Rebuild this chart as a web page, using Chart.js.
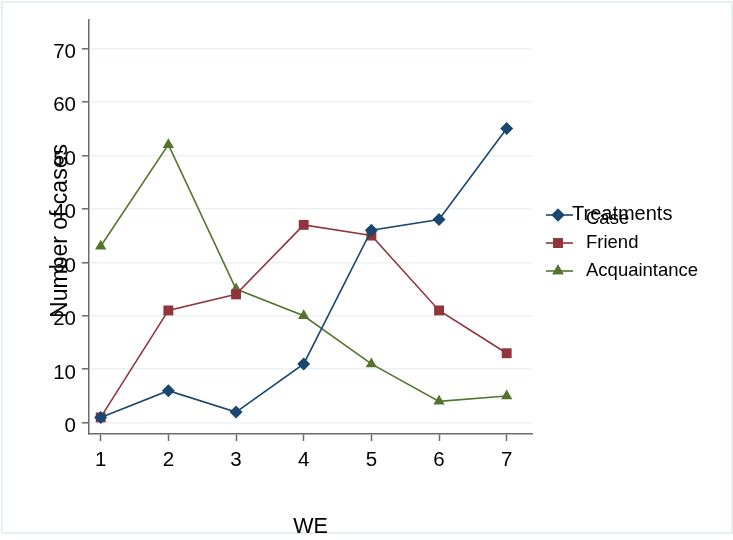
<!DOCTYPE html>
<html>
<head>
<meta charset="utf-8">
<script src="https://cdn.jsdelivr.net/npm/chart.js@4/dist/chart.umd.min.js"></script>
<style>
html,body{margin:0;padding:0;background:#fff;}
canvas{display:block;}
</style>
</head>
<body>
<canvas id="c" width="733" height="540"></canvas>
<script>
// ---- data ----
const categories = [1, 2, 3, 4, 5, 6, 7];
const caseValues = [1, 6, 2, 11, 36, 38, 55];
const friendValues = [1, 21, 24, 37, 35, 21, 13];
const acquaintanceValues = [33, 52, 25, 20, 11, 4, 5];
const yTickValues = [0, 10, 20, 30, 40, 50, 60, 70];
const xTickValues = [1, 2, 3, 4, 5, 6, 7];
const seriesLabels = ['Case', 'Friend', 'Acquaintance'];
const legendTitle = 'Treatments';
const xTitle = 'WE';
const yTitle = 'Number of cases';

const FONT = '"Liberation Sans", Arial, Helvetica, sans-serif';
const colors = ['#1a476f', '#90353b', '#55752f'];
const styles = ['rectRot', 'rect', 'triangle'];
const radii = [6.5, 7, 6.5];

function pts(vals) { return categories.map((c, i) => ({x: c, y: vals[i]})); }
const seriesValues = [caseValues, friendValues, acquaintanceValues];

const datasets = seriesValues.map((v, i) => ({
  label: seriesLabels[i],
  data: pts(v),
  borderColor: colors[i],
  backgroundColor: colors[i],
  borderWidth: 1.6,
  pointStyle: styles[i],
  pointRadius: radii[i],
  pointHoverRadius: radii[i],
  pointBorderWidth: 0,
  pointBackgroundColor: colors[i],
  fill: false,
  tension: 0
}));

const framePlugin = {
  id: 'frame',
  beforeDraw(chart) {
    const ctx = chart.ctx;
    ctx.save();
    ctx.fillStyle = '#ffffff';
    ctx.fillRect(0, 0, chart.width, chart.height);
    ctx.strokeStyle = '#e8efef';
    ctx.lineWidth = 2;
    ctx.strokeRect(2, 2, 730, 531);
    ctx.restore();
  },
  afterDraw(chart) {
    const ctx = chart.ctx;
    ctx.save();
    ctx.font = '23px ' + FONT;
    ctx.fillStyle = '#000';
    ctx.textAlign = 'center';
    ctx.textBaseline = 'middle';
    ctx.translate(61, 231);
    ctx.rotate(-Math.PI / 2);
    ctx.fillText(yTitle, 0, 0);
    ctx.restore();
  }
};

const legendPlugin = {
  id: 'customLegend',
  afterDraw(chart) {
    const ctx = chart.ctx;
    const rows = [215, 243, 271];
    const textRows = [219, 243, 271];
    ctx.save();
    ctx.font = '18.5px ' + FONT;
    ctx.textBaseline = 'middle';
    ctx.textAlign = 'left';
    chart.data.datasets.forEach((ds, i) => {
      const y = rows[i];
      ctx.strokeStyle = ds.borderColor;
      ctx.lineWidth = 1.6;
      ctx.beginPath();
      ctx.moveTo(546, y);
      ctx.lineTo(573, y);
      ctx.stroke();
      ctx.fillStyle = ds.borderColor;
      Chart.helpers.drawPoint(ctx, {pointStyle: ds.pointStyle, radius: ds.pointRadius, rotation: 0, borderWidth: 0}, 558, y);
      ctx.fill();
      ctx.fillStyle = '#000';
      ctx.fillText(ds.label, 586, textRows[i]);
    });
    ctx.font = '20px ' + FONT;
    ctx.fillStyle = '#000';
    ctx.fillText(legendTitle, 572, 214);
    ctx.restore();
  }
};

new Chart(document.getElementById('c'), {
  type: 'line',
  data: { datasets },
  options: {
    responsive: false,
    animation: false,
    events: [],
    layout: { padding: { left: 0, top: 20, right: 201, bottom: 0 } },
    plugins: { legend: { display: false }, tooltip: { enabled: false } },
    scales: {
      x: {
        type: 'linear',
        min: 0.827,
        max: 7.374,
        afterFit(s) { s.height = 106; },
        afterBuildTicks(s) { s.ticks = xTickValues.map(v => ({value: v})); },
        grid: { drawOnChartArea: false, drawTicks: true, tickLength: 7, tickWidth: 1.5, tickColor: '#6b6b6b', color: '#6b6b6b' },
        border: { display: true, color: '#6b6b6b', width: 1.5 },
        ticks: { color: '#000', font: { family: FONT, size: 20.5 }, padding: 7, maxRotation: 0, autoSkip: false },
        title: { display: true, text: xTitle, color: '#000', font: { family: FONT, size: 21.5 }, padding: { top: 0, bottom: 0 } }
      },
      y: {
        type: 'linear',
        min: -2.1,
        max: 75.3,
        afterFit(s) { s.width = 89; },
        afterBuildTicks(s) { s.ticks = yTickValues.map(v => ({value: v})); },
        grid: { drawOnChartArea: true, drawTicks: true, tickLength: 7, tickWidth: 1.5, tickColor: '#6b6b6b', color: '#eaf2f3', lineWidth: 1.6 },
        border: { display: true, color: '#6b6b6b', width: 1.5 },
        ticks: { color: '#000', font: { family: FONT, size: 20.5 }, padding: 6, labelOffset: 4, autoSkip: false }
      }
    }
  },
  plugins: [framePlugin, legendPlugin]
});
</script>
</body>
</html>
